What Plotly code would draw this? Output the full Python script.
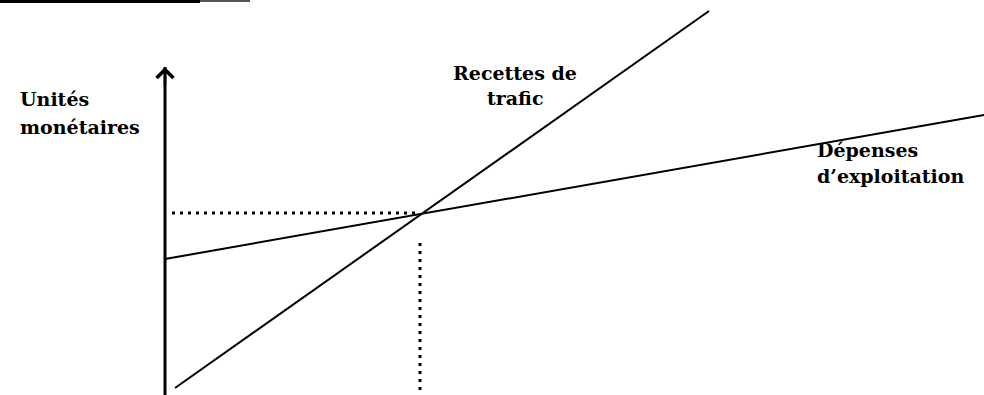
import plotly.graph_objects as go

# break-even diagram, arbitrary units (x = traffic volume, y = monetary units)
recettes_x = [1.0, 54.4]
recettes_y = [0.7, 38.4]
depenses_x = [0.0, 81.9]
depenses_y = [13.6, 28.0]
seuil_x = 25.5
seuil_y = 18.2
axe_y = [0.0, 32.8]

FONT = "DejaVu Serif"

fig = go.Figure()

# vertical axis (monetary units)
fig.add_trace(go.Scatter(x=[0, 0], y=axe_y, mode="lines",
                         line=dict(color="black", width=3), hoverinfo="skip"))

fig.add_trace(go.Scatter(x=recettes_x, y=recettes_y, mode="lines",
                         line=dict(color="black", width=2), name="Recettes de trafic"))
fig.add_trace(go.Scatter(x=depenses_x, y=depenses_y, mode="lines",
                         line=dict(color="black", width=2), name="Dépenses d'exploitation"))

# dotted guides to the break-even point
fig.add_trace(go.Scatter(x=[0.7, seuil_x], y=[seuil_y, seuil_y], mode="lines",
                         line=dict(color="black", width=3, dash="3px,5px"), hoverinfo="skip"))
fig.add_trace(go.Scatter(x=[seuil_x, seuil_x], y=[15.2, 0.4], mode="lines",
                         line=dict(color="black", width=3, dash="3px,5px"), hoverinfo="skip"))

# arrow head on the axis
fig.add_annotation(x=0, y=axe_y[1], ax=0, ay=axe_y[1] - 2, xref="x", yref="y",
                   axref="x", ayref="y", showarrow=True, arrowhead=4,
                   arrowsize=1.3, arrowwidth=2.5, arrowcolor="black", text="")

labels = [
    ("Unités", -14.7, 29.6, "left"),
    ("monétaires", -14.7, 26.8, "left"),
    ("Recettes de", 35.0, 32.2, "center"),
    ("trafic", 35.0, 29.7, "center"),
    ("Dépenses", 65.0, 24.5, "left"),
    ("d\u2019exploitation", 65.0, 21.9, "left"),
]
for txt, lx, ly, anchor in labels:
    fig.add_annotation(x=lx, y=ly, xref="x", yref="y", text="<b>" + txt + "</b>",
                       showarrow=False, xanchor=anchor, yanchor="middle",
                       font=dict(family=FONT, size=19, color="black"))

# scan artefact at the top-left edge
fig.add_shape(type="rect", xref="paper", yref="paper", x0=0, x1=200 / 984,
              y0=1 - 3 / 395, y1=1, fillcolor="black", line_width=0)
fig.add_shape(type="rect", xref="paper", yref="paper", x0=200 / 984, x1=250 / 984,
              y0=1 - 2 / 395, y1=1, fillcolor="#555555", line_width=0)

fig.update_layout(
    width=984, height=395,
    margin=dict(l=0, r=0, t=0, b=0),
    paper_bgcolor="white", plot_bgcolor="white",
    showlegend=False,
    xaxis=dict(range=[-16.5, 81.9], visible=False, fixedrange=True),
    yaxis=dict(range=[0, 39.5], visible=False, fixedrange=True),
)

fig.write_html("out.html", config={"displayModeBar": False},
               post_script="document.body.style.margin='0';")
